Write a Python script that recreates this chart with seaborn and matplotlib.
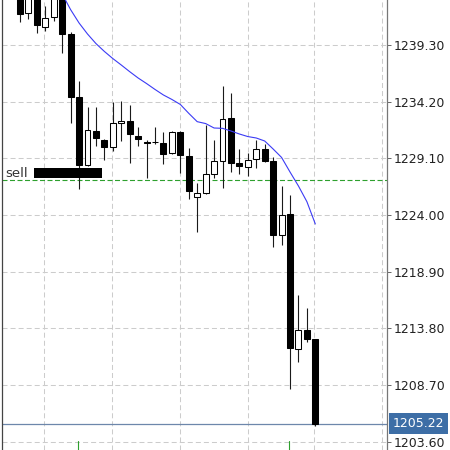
import matplotlib
matplotlib.use("Agg")
import matplotlib.pyplot as plt
import matplotlib.transforms as mtransforms
from matplotlib.patches import Rectangle
import numpy as np
import seaborn as sns

# ---------------- data ----------------
opens = [1243.89, 1242.15, 1243.80, 1240.89, 1241.79, 1244.07, 1240.26, 1234.59, 1228.50, 1231.56,
         1230.75, 1230.09, 1232.25, 1232.46, 1231.14, 1230.53, 1230.54, 1230.51, 1229.55, 1231.44,
         1229.31, 1225.59, 1225.95, 1227.66, 1228.89, 1232.70, 1228.65, 1228.35, 1229.01, 1229.91,
         1228.89, 1222.20, 1224.06, 1211.94, 1213.65, 1212.81]
highs = [1244.43, 1244.07, 1244.07, 1242.81, 1244.25, 1244.25, 1240.50, 1236.09, 1233.69, 1233.69,
         1230.81, 1234.20, 1234.26, 1233.90, 1231.95, 1230.75, 1231.95, 1231.50, 1231.59, 1231.52,
         1230.06, 1226.85, 1232.10, 1230.75, 1235.61, 1235.01, 1229.91, 1229.61, 1230.75, 1230.36,
         1229.25, 1226.64, 1225.80, 1216.80, 1215.60, 1212.81]
lows = [1241.37, 1241.61, 1240.41, 1240.59, 1241.46, 1238.55, 1232.25, 1226.31, 1228.41, 1230.21,
        1228.95, 1229.79, 1230.69, 1228.71, 1230.24, 1227.36, 1230.39, 1228.56, 1229.46, 1227.75,
        1225.44, 1222.50, 1225.89, 1227.30, 1226.40, 1227.90, 1227.69, 1227.51, 1228.20, 1228.80,
        1221.15, 1221.30, 1208.34, 1210.74, 1212.60, 1205.01]
closes = [1242.09, 1243.71, 1241.10, 1241.70, 1243.80, 1240.29, 1234.65, 1228.50, 1231.65, 1230.90,
          1230.09, 1232.25, 1232.43, 1231.26, 1230.84, 1230.50, 1230.57, 1229.49, 1231.44, 1229.40,
          1226.19, 1225.95, 1227.66, 1228.86, 1232.61, 1228.65, 1228.44, 1228.95, 1229.91, 1228.89,
          1222.20, 1224.00, 1212.00, 1213.65, 1212.84, 1205.22]
ma_start = 5
ma_values = [1243.89, 1242.48, 1241.28, 1240.29, 1239.43, 1238.72, 1238.08, 1237.50, 1236.90, 1236.33,
             1235.83, 1235.30, 1234.80, 1234.40, 1233.95, 1233.15, 1232.40, 1232.23, 1231.83, 1231.80,
             1231.56, 1231.29, 1231.06, 1230.93, 1230.66, 1229.94, 1229.18, 1227.87, 1226.61, 1225.20,
             1223.19]
price_ticks = [1203.60, 1208.70, 1213.80, 1218.90, 1224.00, 1229.10, 1234.20, 1239.30]
time_grid = [2.84, 10.9, 18.96, 27.02, 34.9, 42.9]
sell_level = 1227.15
sell_label = "sell"
trade_marks = [7, 32]
current_price = closes[-1]

# ---------------- style ----------------
sns.set_style("white")
plt.rcParams["font.family"] = ["DejaVu Sans"]
plt.rcParams["lines.scale_dashes"] = False

fig = plt.figure(figsize=(4.5, 4.5), dpi=100)
ax = fig.add_axes([2.3 / 450, 0, 385 / 450, 1])

x = np.arange(len(opens))
o = np.array(opens); c = np.array(closes)
h = np.array(highs); l = np.array(lows)

# wicks
ax.vlines(x, l, h, color="#1a1a1a", lw=0.8, zorder=2)
# bodies
bottom = np.minimum(o, c)
height = np.maximum(np.abs(c - o), 0.04)
faces = ["white" if cc > oo else "black" for oo, cc in zip(o, c)]
ax.bar(x, height, bottom=bottom, width=0.7, color=faces, edgecolor="black",
       linewidth=0.75, zorder=3)

# moving average
ma_x = np.arange(ma_start, ma_start + len(ma_values))
sns.lineplot(x=ma_x, y=ma_values, ax=ax, color="#3b3bf5", lw=0.8, zorder=4)

# sell level
ax.axhline(sell_level, color="#2ea02e", lw=0.8, linestyle=(0, (3.6, 1.8)), zorder=1.5)
ax.add_patch(Rectangle((1.6, 1227.30), 8.06, 0.90, facecolor="black", edgecolor="none", zorder=5))
ax.text(-1.7, 1227.72, sell_label, ha="left", va="center", fontsize=9.5, color="#333333", zorder=5)

# trade markers at bottom
for tm in trade_marks:
    ax.axvline(tm - 0.1, ymin=0, ymax=0.02, color="#2ea02e", lw=0.8, zorder=5)

# current price line and label
ax.axhline(current_price, color="#6d87ab", lw=0.9, zorder=1.6)
trans = mtransforms.blended_transform_factory(ax.transAxes, ax.transData)
ax.text(1.013, current_price, f"{current_price:.2f}", transform=trans, ha="left", va="center",
        fontsize=9, color="white", clip_on=False, zorder=10,
        bbox=dict(facecolor="#3d6ea6", edgecolor="none", boxstyle="square,pad=0.3"))

# axes
ax.set_xlim(-2.098, 43.53)
ax.set_ylim(1202.85, 1243.35)
ax.set_yticks(price_ticks)
ax.set_yticklabels([f"{t:.2f}" for t in price_ticks])
ax.yaxis.tick_right()
ax.tick_params(axis="y", length=3, width=0.7, color="#666666", pad=1.5,
               labelsize=9, labelcolor="#222222", right=True, left=False)
ax.set_xticks(time_grid)
ax.set_xticklabels([])
ax.tick_params(axis="x", length=0)
ax.set_xlabel(""); ax.set_ylabel("")
ax.grid(True, color="#cccccc", lw=0.75, linestyle=(0, (3.6, 2.2)))
ax.set_axisbelow(True)
for s in ["top", "bottom"]:
    ax.spines[s].set_visible(False)
ax.spines["left"].set_color("#444444")
ax.spines["left"].set_linewidth(0.9)
ax.spines["right"].set_color("#777777")
ax.spines["right"].set_linewidth(0.9)

fig.savefig("out.png", dpi=100)
